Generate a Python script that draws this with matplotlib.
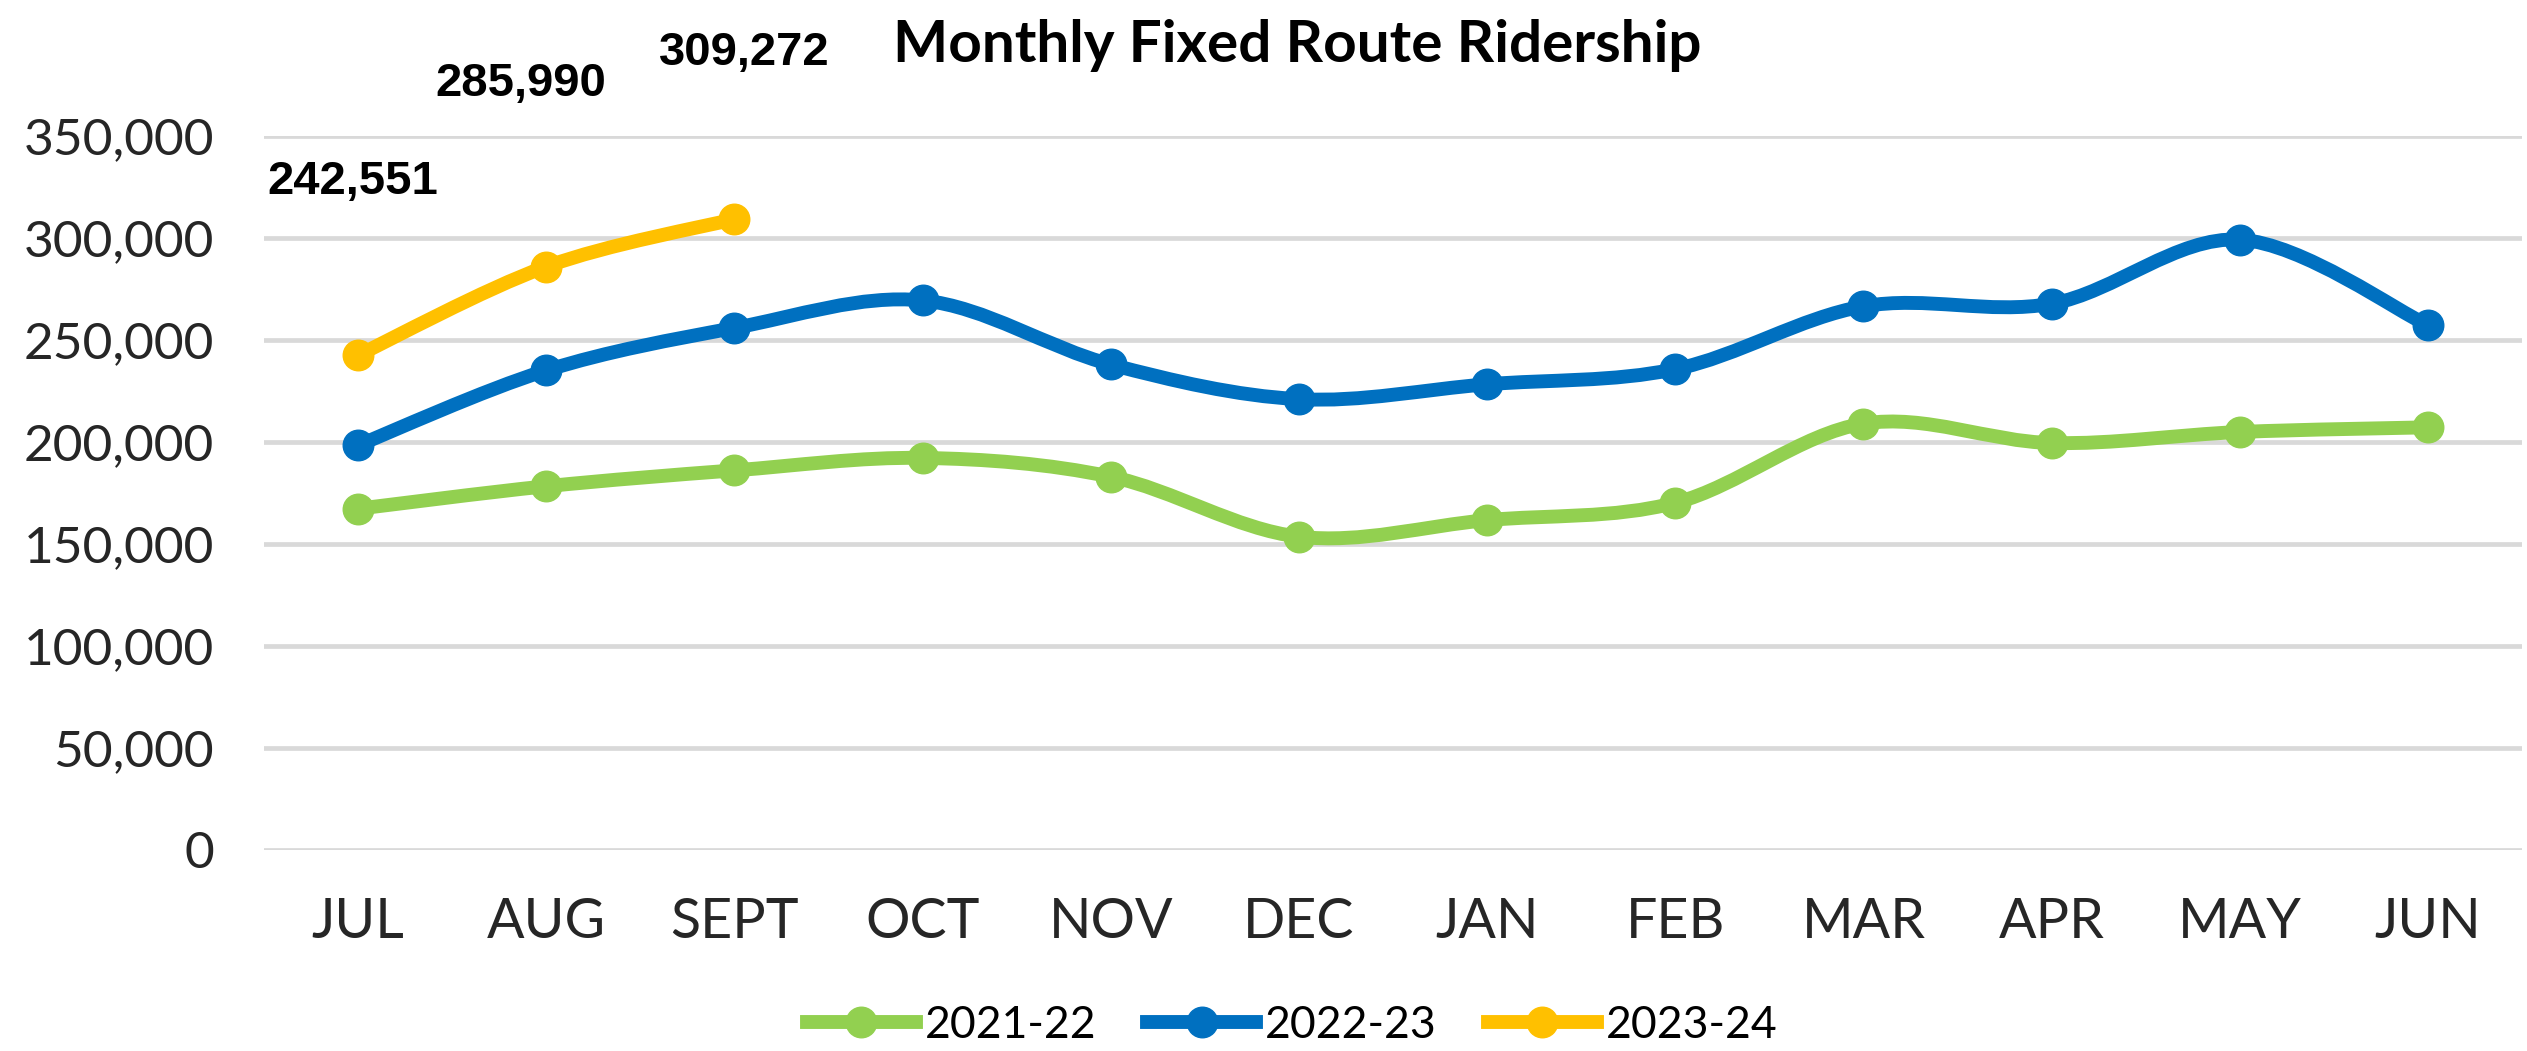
import matplotlib
matplotlib.use("Agg")
import matplotlib.pyplot as plt
from matplotlib.path import Path
from matplotlib.patches import PathPatch
from matplotlib.lines import Line2D
from matplotlib.ticker import FuncFormatter

# ---- data ----
months = ["JUL", "AUG", "SEPT", "OCT", "NOV", "DEC", "JAN", "FEB", "MAR", "APR", "MAY", "JUN"]
series_names = ["2021-22", "2022-23", "2023-24"]
fy2122 = [167300, 178300, 186100, 192200, 183000, 153600, 161700, 170200, 209000, 199500, 204900, 207200]
fy2223 = [198400, 235100, 255900, 269400, 238000, 221000, 228300, 235700, 266500, 267800, 299200, 257200]
fy2324 = [242551, 285990, 309272]
colors = ["#92D050", "#0070C0", "#FFC000"]
yticks = [0, 50000, 100000, 150000, 200000, 250000, 300000, 350000]

W, H = 2527, 1051
fig = plt.figure(figsize=(W / 100, H / 100), dpi=100)
ax = fig.add_axes([264 / W, 201 / H, 2258 / W, 714 / H])

ax.set_xlim(-0.5, len(months) - 0.5)
ax.set_ylim(0, 350000)
ax.set_yticks(yticks)
ax.yaxis.set_major_formatter(FuncFormatter(lambda v, p: f"{int(v):,}"))
ax.set_xticks(range(len(months)))
ax.set_xticklabels(months)
for s in ax.spines.values():
    s.set_visible(False)
ax.tick_params(axis="both", length=0)
ax.tick_params(axis="y", pad=36, labelsize=37, labelcolor="#262626")
ax.tick_params(axis="x", pad=34, labelsize=40, labelcolor="#262626")
for lab in ax.get_xticklabels() + ax.get_yticklabels():
    lab.set_family("Lato")
ax.yaxis.grid(True, color="#D9D9D9", linewidth=3.4)
ax.set_axisbelow(True)


def smooth_path(ys):
    xs = list(range(len(ys)))
    n = len(xs)
    verts = [(xs[0], ys[0])]
    codes = [Path.MOVETO]
    for i in range(n - 1):
        a = i - 1 if i > 0 else i
        d = i + 2 if i + 2 < n else i + 1
        c1 = (xs[i] + (xs[i + 1] - xs[a]) / 6, ys[i] + (ys[i + 1] - ys[a]) / 6)
        c2 = (xs[i + 1] - (xs[d] - xs[i]) / 6, ys[i + 1] - (ys[d] - ys[i]) / 6)
        verts += [c1, c2, (xs[i + 1], ys[i + 1])]
        codes += [Path.CURVE4] * 3
    return Path(verts, codes)


for k, (vals, c) in enumerate(zip([fy2122, fy2223, fy2324], colors)):
    ax.add_patch(PathPatch(smooth_path(vals), fill=False, edgecolor=c, lw=10,
                           capstyle="round", joinstyle="round", zorder=3 + k))
    ax.plot(range(len(vals)), vals, "o", color=c, ms=22, zorder=3 + k)

# data labels for 2023-24
offsets = [(-5, 173), (-25, 183), (10, 166)]
for i, (v, off) in enumerate(zip(fy2324, offsets)):
    ax.annotate(f"{v:,}", (i, v), xytext=off, textcoords="offset pixels",
                ha="center", va="center", fontsize=34, fontweight="bold",
                family="Liberation Sans", color="black", annotation_clip=False)

fig.text(1297 / W, 1 - 45 / H, "Monthly Fixed Route Ridership", ha="center", va="center",
         fontsize=42, fontweight="bold", family="Lato", color="black")

handles = [Line2D([0], [0], color=c, lw=10, marker="o", ms=22) for c in colors]
fig.legend(handles, series_names, loc="center", bbox_to_anchor=(1292 / W, 1 - 1025 / H),
           ncol=3, frameon=False, prop={"family": "Lato", "size": 32},
           handlelength=2.45, handletextpad=0.2, columnspacing=1.15)

fig.savefig("out.png", dpi=100)
